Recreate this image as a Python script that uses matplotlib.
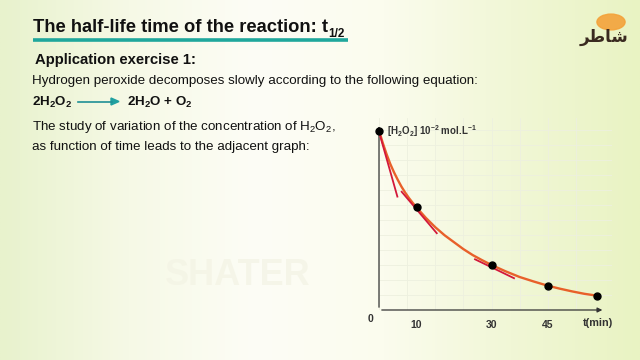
import numpy as np
import matplotlib
matplotlib.use("Agg")
import matplotlib.pyplot as plt
from matplotlib.colors import LinearSegmentedColormap

plt.rcParams['font.family'] = ['Liberation Sans', 'DejaVu Sans']
plt.rcParams['mathtext.fontset'] = 'custom'
plt.rcParams['mathtext.rm'] = 'Liberation Sans'
plt.rcParams['mathtext.bf'] = 'Liberation Sans:bold'
plt.rcParams['mathtext.default'] = 'regular'

# data
times = [0, 10, 30, 45, 58]                       # min
conc = [5.98, 3.42, 1.50, 0.81, 0.48]             # 10^-2 mol/L
curve_t = [0, 1, 2, 3, 4, 5, 6, 7, 8, 9, 10, 12.5, 15, 17.5, 20, 22.5, 25, 27.5,
           30, 33.75, 37.5, 41.25, 45, 48.25, 51.5, 54.75, 58]
curve_c = [5.98, 5.57, 5.20, 4.87, 4.59, 4.34, 4.11, 3.91, 3.73, 3.57, 3.42, 3.07,
           2.76, 2.49, 2.26, 2.03, 1.83, 1.66, 1.50, 1.29, 1.10, 0.95, 0.81, 0.71,
           0.62, 0.54, 0.48]
tangents = [([0, 4.9], [5.94, 3.78]),
            ([6.05, 15.4], [3.94, 2.56]),
            ([25.6, 36.0], [1.69, 1.06])]
tick_pos = [10, 30, 45]
tick_lab = ['10', '30', '45']

W, H = 640, 360
fig = plt.figure(figsize=(6.4, 3.6), dpi=100)


def px(x, y):
    return x / W, 1 - y / H


# background gradient
bg = fig.add_axes([0, 0, 1, 1], zorder=-10)
cmap = LinearSegmentedColormap.from_list(
    'bg', ['#e8f2cd', '#f6f9e6', '#fdfdf6', '#fbfcee', '#f1f7d6', '#e9f3c3'])
gx = np.linspace(0, 1, 256)
gy = np.linspace(0, 1, 64)[:, None]
grad = gx[None, :] * np.ones_like(gy)
bg.imshow(grad, cmap=cmap, aspect='auto', extent=[0, 1, 0, 1])
bg.set_axis_off()

# faint watermark
fig.text(*px(165, 285), 'SHATER', fontsize=26, fontweight='bold',
         color='#f3f3e4', alpha=0.7, va='baseline')

# title
t1 = fig.text(*px(33, 32), 'The half-life time of the reaction: t',
              fontsize=13.2, fontweight='bold', color='#111111', va='baseline')
fig.canvas.draw()
bb = t1.get_window_extent()
fig.text(bb.x1 / W, px(0, 37)[1], '1/2', fontsize=8.5, fontweight='bold',
         color='#111111', va='baseline')
fig.add_artist(plt.Line2D([33 / W, 348 / W], [px(0, 40)[1]] * 2,
                          color='#1fa79c', lw=2.6, solid_capstyle='butt'))

fig.text(*px(35, 64), 'Application exercise 1:', fontsize=10.7, fontweight='bold',
         color='#111111', va='baseline')
fig.text(*px(32, 84), 'Hydrogen peroxide decomposes slowly according to the following equation:',
         fontsize=9.6, color='#111111', va='baseline')
fig.text(*px(32, 106), r'2H$_\mathbf{2}$O$_\mathbf{2}$', fontsize=9.6, fontweight='bold',
         color='#111111', va='baseline')
fig.add_artist(plt.Line2D([78 / W, 112 / W], [px(0, 101.5)[1]] * 2,
                          color='#1f8f95', lw=1.2))
fig.add_artist(plt.Polygon([px(111, 98), px(111, 105), px(119, 101.5)],
                           closed=True, color='#1fa0a0'))
fig.text(*px(127, 106), r'2H$_\mathbf{2}$O + O$_\mathbf{2}$', fontsize=9.6,
         fontweight='bold', color='#111111', va='baseline')
fig.text(*px(32, 130), r'The study of variation of the concentration of H$_2$O$_2$,',
         fontsize=9.6, color='#111111', va='baseline')
fig.text(*px(32, 150), 'as function of time leads to the adjacent graph:',
         fontsize=9.6, color='#111111', va='baseline')

# logo (approximation)
fig.add_artist(plt.Circle(px(611, 22), 0.022, transform=fig.transFigure,
                          color='#f4a23a', alpha=0.9))
fig.text(*px(604, 42), '\uFEAE\uFEC3\uFE8E\uFEB7', fontsize=12, fontweight='bold',
         color='#3a2a20', ha='center', va='baseline', family='DejaVu Sans')

# graph
x0, y0 = 379, 310
ax = fig.add_axes([x0 / W, 1 - y0 / H, (612 - x0) / W, (y0 - 118) / H])
ax.set_xlim(0, (612 - x0) / 3.75)
ax.set_ylim(0, (y0 - 118) / 30)
ax.patch.set_alpha(0)
for s in ax.spines.values():
    s.set_visible(False)

# faint grid
for gxv in np.arange(0, 60, 7.5):
    ax.axvline(gxv, color='#edf0df', lw=0.6, zorder=0)
for gyv in np.arange(0.5, 6.2, 0.5):
    ax.axhline(gyv, color='#edf0df', lw=0.6, zorder=0)

arrow = dict(arrowstyle='-|>', color='#333333', lw=0.9, mutation_scale=7)
ax.annotate('', xy=(60.3, 0), xytext=(0, 0), arrowprops=arrow, annotation_clip=False)
ax.annotate('', xy=(0, 6.22), xytext=(0, 0), arrowprops=arrow, annotation_clip=False)

ax.plot(curve_t, curve_c, color='#e8602a', lw=1.7, zorder=3, solid_capstyle='round')
for tx, ty in tangents:
    ax.plot(tx, ty, color='#d3183a', lw=1.3, zorder=4)
ax.plot(times, conc, 'o', color='black', ms=5, zorder=5, clip_on=False)

ax.set_xticks(tick_pos)
ax.set_xticklabels(tick_lab, fontsize=7.5, fontweight='bold', color='#333333')
ax.set_yticks([])
ax.tick_params(axis='x', length=0, pad=7)
ax.text(-2.4, -0.3, '0', fontsize=7.5, fontweight='bold', color='#333333',
        ha='center', va='center')
ax.text(54.3, -0.45, 't(min)', fontsize=7.8, fontweight='bold', color='#333333',
        ha='left', va='center')
ax.text(2.1, 5.97, r'[H$_2$O$_2$] 10$^{-2}$ mol.L$^{-1}$', fontsize=7.0,
        fontweight='bold', color='#333333', ha='left', va='center')

fig.savefig('out.png', dpi=100)
